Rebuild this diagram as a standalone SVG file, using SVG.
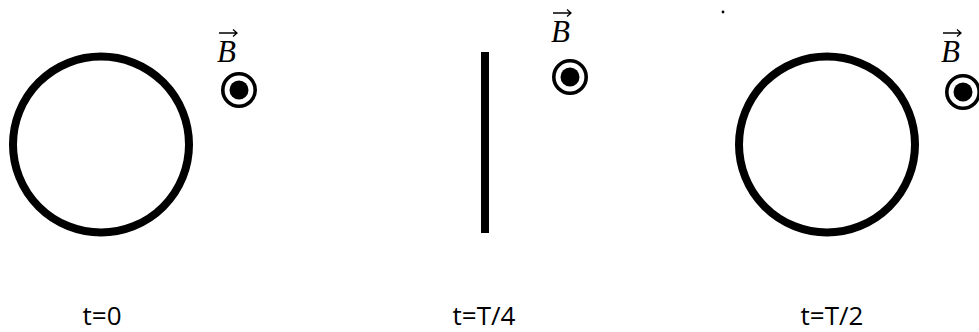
<svg xmlns="http://www.w3.org/2000/svg" width="979" height="332" viewBox="0 0 979 332">
<style>
.loop{fill:none;stroke:#000;stroke-width:8}
.ring{fill:none;stroke:#000;stroke-width:3.6}
.dot{fill:#000}
.b{font-family:"Liberation Serif",serif;font-style:italic;font-size:31px;fill:#000}
.vec{stroke:#000;stroke-width:1.3;fill:none}
.lbl{font-family:"Open Sans","Noto Sans",sans-serif;font-size:26px;fill:#000;text-anchor:middle}
</style>
<defs>
<g id="field">
<circle class="ring" cx="0" cy="0" r="16.2"/>
<circle class="dot" cx="0" cy="0" r="9.5"/>
</g>
<g id="bvec">
<text class="b" x="0" y="0">B</text>
<path class="vec" d="M2,-29 H20 M16,-32.5 L20,-29 L16,-25.5"/>
</g>
</defs>
<rect width="979" height="332" fill="#fff"/>
<g id="loop-t0"><circle class="loop" cx="101" cy="144.5" r="88"/></g>
<g id="loop-t4"><rect x="481" y="52" width="8" height="181" fill="#000"/></g>
<g id="loop-t2"><circle class="loop" cx="827" cy="144.5" r="88"/></g>
<g id="field-1"><use href="#bvec" x="217" y="62"/><use href="#field" x="239" y="90"/></g>
<g id="field-2"><use href="#bvec" x="551" y="42"/><use href="#field" x="570" y="77"/></g>
<g id="field-3"><use href="#bvec" x="941" y="62"/><use href="#field" x="963" y="92"/></g>
<circle cx="723" cy="12" r="1.4" fill="#000"/>
<g id="labels">
<text class="lbl" x="102" y="325">t=0</text>
<text class="lbl" x="484" y="325">t=T/4</text>
<text class="lbl" x="832" y="325">t=T/2</text>
</g>
<g id="connectors"/>
</svg>
